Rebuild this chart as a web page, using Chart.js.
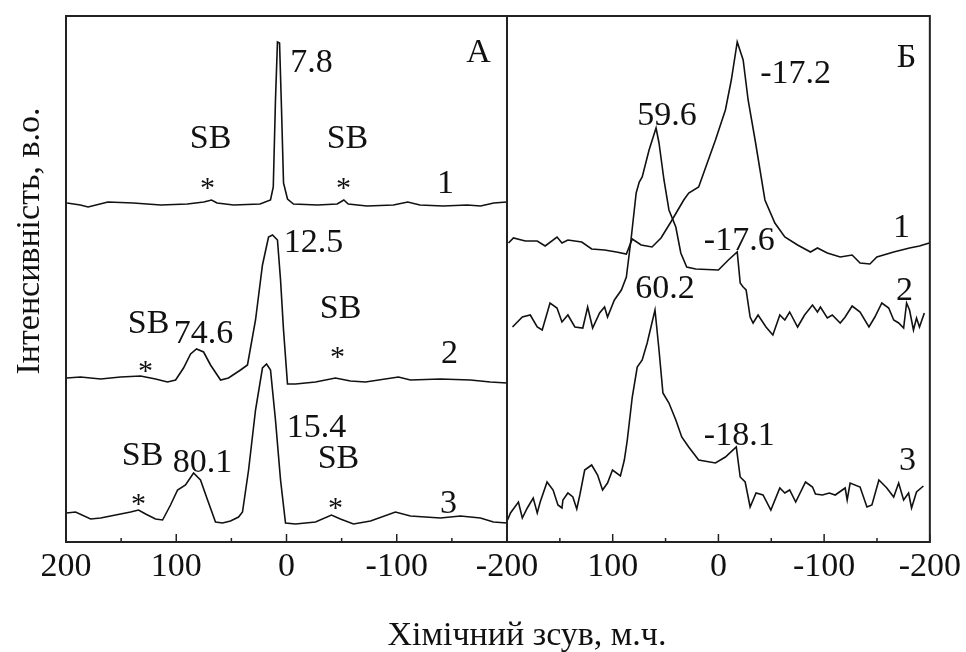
<!DOCTYPE html>
<html><head><meta charset="utf-8">
<script src="https://cdn.jsdelivr.net/npm/chart.js@4"></script>
<style>
html,body{margin:0;padding:0;background:#fff;}
#wrap{position:relative;width:966px;height:652px;background:#fff;}
canvas{position:absolute;left:0;top:0;}
</style>
</head><body>
<div id="wrap"><canvas id="cA" width="966" height="652"></canvas><canvas id="cB" width="966" height="652"></canvas></div>
<script>
// ---- data: chemical shift (ppm) and stacked intensity (a.u.) ----
const shiftTicks = [200, 100, 0, -100, -200];

const shiftA1 = [199,187,180,162,139,114,90,75,68,63,48,24,14.5,12,10,8.2,6.3,4.5,2.7,-0.9,-6.3,-28,-46,-52,-56,-73,-97,-110,-121,-142,-164,-176,-188,-200];
const intA1 = [67.8,67.4,67.0,68.0,67.8,67.4,67.6,68.0,68.4,67.8,67.4,67.6,68.4,71.0,88.4,100.0,99.8,86.4,71.8,68.6,67.6,67.4,67.6,68.4,67.6,67.2,67.4,68.0,67.4,67.2,67.4,67.2,67.8,68.0];

const shiftA2 = [199.5,186.8,168.6,150.5,132.4,118.8,108,100.6,93.4,87,81.6,75.2,68.9,59.8,52.6,41.7,35.4,28.1,21.8,16.3,12.7,8.2,5.4,2.7,-0.9,-8.2,-26.3,-44.4,-58,-71.6,-101.5,-112.4,-139.6,-166.8,-184.9,-200];
const intA2 = [32.8,33.0,32.6,33.0,33.2,32.6,32.0,32.4,34.8,37.6,38.6,38.0,35.4,32.4,32.8,34.4,35.4,44.4,55.4,61.0,61.4,60.4,52.4,42.4,31.6,31.6,32.0,32.8,32.2,32.0,33.0,32.4,32.6,32.4,32.0,31.8];

const shiftA3 = [199.5,191.3,177.7,168.6,155,141.4,134.2,127.8,118.8,112.4,105.2,98.8,91.6,84.3,78,71.6,64.4,58,50.8,43.5,39.9,34.4,28.1,21.8,18.1,14.5,10,5.4,0.9,-8.2,-26.3,-40.8,-48.9,-60.7,-76.2,-98.8,-112.4,-139.6,-157.8,-175.9,-187.7,-200];
const intA3 = [5.8,6.0,4.6,4.8,5.4,6.0,6.4,5.6,4.6,4.4,7.4,10.4,11.4,13.8,12.4,8.4,4.0,3.8,4.2,5.0,6.0,14.4,26.4,34.8,35.6,34.4,24.4,12.4,3.8,3.6,4.0,5.4,4.6,3.6,4.2,6.0,5.2,4.8,5.2,4.8,4.0,3.8];

const shiftB1 = [198.6,193.9,182.7,171.4,163.9,152.7,148,142.4,129.3,119.9,107.7,96.5,87.1,81.5,73.1,62.8,54.3,45,32.8,28.1,18.7,2.8,-6.6,-12.2,-17.8,-23.4,-28.1,-34.7,-44,-53.4,-62.8,-74.9,-87.1,-93.7,-103,-115.2,-126.5,-134,-143.3,-149.9,-165.8,-180.8,-190.2,-199.5];
const intB1 = [59.8,60.8,60.2,60.2,59.2,61.0,59.8,60.4,60.0,58.6,58.4,58.0,57.6,60.6,59.4,59.0,60.8,64.0,68.4,69.8,71.0,80.4,86.4,92.4,100.0,96.4,88.4,80.4,68.4,63.8,61.0,59.4,58.0,58.8,57.8,57.0,57.4,55.8,55.6,57.0,58.0,58.8,59.2,59.8];

const shiftB2 = [194.8,185.5,178,171.4,166.7,159.3,152.7,148,142.4,135.8,128.3,123.7,119,112.4,107.7,104.9,98.4,91.8,87.1,82.4,77.8,74.9,72.1,65.6,59,56.2,51.5,46.8,40.3,35.6,30,21.5,0,-9.4,-17.8,-20.6,-23.4,-26.2,-30,-32.8,-37.5,-45,-51.5,-58.1,-62.8,-67.4,-74.9,-81.5,-89,-93.7,-96.5,-103,-107.7,-115.2,-119.9,-126.5,-134,-142.4,-148,-154.6,-161.1,-165.8,-170.5,-175.2,-178,-180.8,-184.5,-187.4,-190.2,-194.8];
const intB2 = [43.0,45.0,45.4,43.0,42.4,47.8,46.8,44.0,45.4,43.0,42.8,47.0,42.8,45.8,47.0,45.0,48.4,50.4,53.0,61.0,69.8,72.0,73.0,78.4,82.8,79.8,72.4,66.4,63.0,57.8,55.0,54.6,54.4,56.4,58.0,51.8,51.0,50.4,45.0,43.8,45.4,43.0,41.4,45.4,44.4,46.0,43.0,45.4,47.4,46.0,47.0,44.8,45.4,43.8,45.0,47.2,46.0,43.0,45.0,47.8,46.8,44.4,43.8,42.8,47.8,46.4,42.4,44.8,43.0,45.8];

const shiftB3 = [199.5,196.7,189.2,185.5,180.8,175.2,171.4,168.6,162.1,156.4,151.8,148,147.1,142.4,137.7,134,131.1,126.5,119.9,114.3,109.6,104.9,100.2,92.7,89,86.2,81.5,76.8,72.1,67.4,60,56.2,52.5,46.8,40.3,34.7,28.1,18.7,2.8,-6.6,-16.9,-20.6,-25.3,-30,-35.6,-42.2,-49.6,-58.1,-62.8,-67.4,-73.1,-82.4,-89,-91.8,-98.4,-104.9,-110.5,-119.9,-121.8,-124.6,-134,-140.5,-145.2,-151.8,-159.3,-165.8,-170.5,-175.2,-179.9,-182.7,-187.4,-193.9];
const intB3 = [4.4,5.8,8.0,4.8,6.8,8.8,5.8,8.0,12.0,10.4,7.4,6.8,8.4,9.8,9.0,6.6,9.4,14.4,15.4,13.4,10.4,11.8,14.4,13.2,16.4,20.4,29.0,35.0,36.4,39.8,46.4,38.4,29.8,27.8,24.4,21.0,19.0,16.4,15.8,17.0,19.0,13.0,12.0,7.0,9.8,9.4,6.4,10.8,9.8,10.4,8.0,12.0,11.0,9.6,9.4,9.8,9.4,10.8,8.4,11.8,11.0,7.0,7.4,12.4,10.8,9.0,11.8,8.4,9.8,6.8,10.0,11.2];

// annotations (text anchored at shift / intensity)
const labelTextA = ['7.8','SB','SB','*','*','1','А','12.5','SB','SB','74.6','*','*','2','15.4','SB','80.1','SB','*','*','3'];
const labelShiftA = [-22.7,68.9,-55.3,71.6,-51.7,-144.2,-174.1,-24.5,-49,125.1,75.2,127.8,-46.2,-147.8,-27.2,130.6,76.2,-47.1,134.2,-44.4,-146.9];
const labelIntA = [94.0,78.8,78.8,69.0,69.0,69.8,96.0,58.0,44.8,41.8,39.8,32.5,35.3,35.8,21.0,15.4,14.0,14.8,5.9,5.1,5.8];

const labelTextB = ['Б','-17.2','59.6','-17.6','1','60.2','2','-18.1','3'];
const labelShiftB = [-178.0,-73.1,48.7,-19.7,-173.3,50.6,-176.1,-19.7,-178.9];
const labelIntB = [95.0,91.8,83.4,58.4,61.0,48.8,48.4,19.4,14.4];

const yTitle = 'Інтенсивність, в.о.';
const xTitle = 'Хімічний зсув, м.ч.';

// ---- drawing ----
const FONT = '"Liberation Serif","Times New Roman",Times,serif';
const FS = 34;

function series(sh, it) {
  return {
    data: sh.map((s, i) => ({ x: s, y: it[i] })),
    showLine: true, borderColor: '#111', borderWidth: 1.6,
    pointRadius: 0, pointHoverRadius: 0, fill: false, tension: 0
  };
}

function deco(texts, shifts, ints) {
  return {
    id: 'deco',
    afterDatasetsDraw(chart) {
      const { ctx, chartArea: a, scales: { x, y } } = chart;
      ctx.save();
      ctx.strokeStyle = '#222';
      ctx.lineWidth = 2;
      ctx.strokeRect(a.left, a.top, a.right - a.left, a.bottom - a.top);
      ctx.lineWidth = 1.5;
      x.ticks.forEach(t => {
        const px = x.getPixelForValue(t.value);
        const len = (t.value % 100 === 0) ? 8 : 4;
        ctx.beginPath();
        ctx.moveTo(px, a.bottom);
        ctx.lineTo(px, a.bottom - len);
        ctx.stroke();
      });
      ctx.fillStyle = '#111';
      ctx.textAlign = 'center';
      ctx.textBaseline = 'alphabetic';
      texts.forEach((s, i) => {
        ctx.font = (s === '*' ? 30 : FS) + 'px ' + FONT;
        ctx.fillText(s, x.getPixelForValue(shifts[i]), y.getPixelForValue(ints[i]));
      });
      ctx.restore();
    }
  };
}

const titles = {
  id: 'titles',
  afterDraw(chart) {
    const ctx = chart.ctx;
    ctx.save();
    ctx.fillStyle = '#111';
    ctx.font = FS + 'px ' + FONT;
    ctx.textAlign = 'center';
    ctx.textBaseline = 'alphabetic';
    ctx.fillText(xTitle, 527, 645);
    ctx.translate(39, 241);
    ctx.rotate(-Math.PI / 2);
    ctx.fillText(yTitle, 0, 0);
    ctx.restore();
  }
};

function xScale(hideFirst) {
  return {
    type: 'linear', min: -200, max: 200, reverse: true,
    grid: { display: false, drawTicks: false },
    border: { display: false },
    ticks: {
      stepSize: 50, autoSkip: false, maxRotation: 0, minRotation: 0, padding: 5,
      color: '#111', font: { family: FONT, size: FS },
      callback: v => (v % 100 === 0 && shiftTicks.includes(v) && !(hideFirst && v === 200)) ? String(v) : ''
    },
    afterFit: s => { s.height = 60; }
  };
}

function makeChart(id, sets, pad, hideFirst, plugins) {
  return new Chart(document.getElementById(id), {
    type: 'scatter',
    data: { datasets: sets },
    options: {
      responsive: false, animation: false, events: [],
      layout: { padding: pad },
      plugins: { legend: { display: false }, tooltip: { enabled: false } },
      scales: { x: xScale(hideFirst), y: { display: false, min: 0, max: 105.2 } }
    },
    plugins: plugins
  });
}

makeChart('cA', [series(shiftA1, intA1), series(shiftA2, intA2), series(shiftA3, intA3)],
  { left: 66, top: 16, right: 966 - 507, bottom: 50 }, false,
  [deco(labelTextA, labelShiftA, labelIntA), titles]);

makeChart('cB', [series(shiftB1, intB1), series(shiftB2, intB2), series(shiftB3, intB3)],
  { left: 507, top: 16, right: 32, bottom: 50 }, true,
  [deco(labelTextB, labelShiftB, labelIntB)]);
</script>
</body></html>
